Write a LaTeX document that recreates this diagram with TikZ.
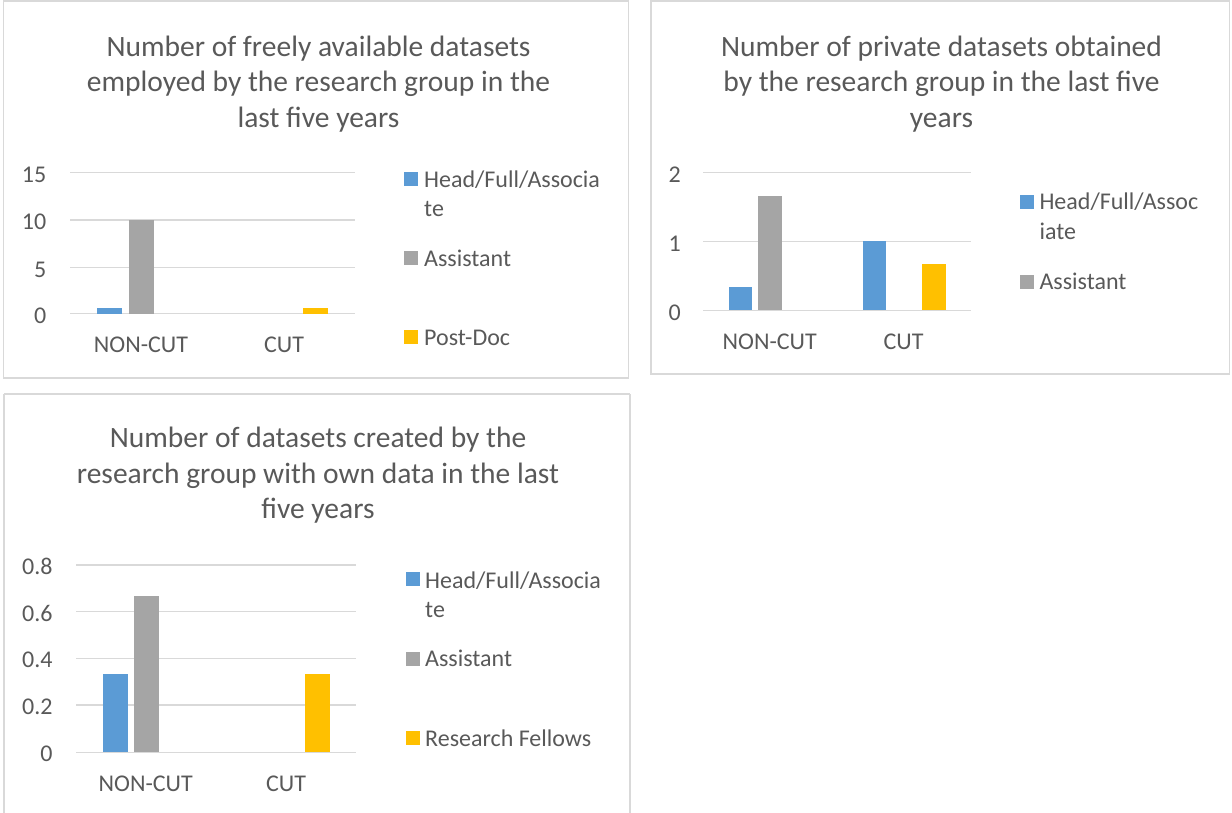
\documentclass[tikz,border=0pt]{standalone}
\usepackage{fontspec}
\setmainfont{Carlito}
\definecolor{txt}{HTML}{595959}
\definecolor{gridc}{HTML}{D9D9D9}
\definecolor{cblue}{HTML}{5B9BD5}
\definecolor{cgray}{HTML}{A5A5A5}
\definecolor{cyell}{HTML}{FFC000}
\tikzset{
  frame/.style={draw=gridc, line width=1.2pt},
  gline/.style={draw=gridc, line width=1.5pt},
  lab/.style={font=\fontsize{24}{29}\selectfont, text=txt, inner sep=0pt},
  tick/.style={lab, anchor=base east},
  cat/.style={lab, anchor=base},
  leg/.style={lab, anchor=base west},
  ttl/.style={font=\fontsize{29.5}{35.5}\selectfont, text=txt, align=center, inner sep=0pt},
}
\newcommand\drawbarx[5]{\fill[#1] (#2,#4) rectangle (#3,#5);}
\begin{document}
\begin{tikzpicture}[x=1pt,y=-1pt]
\useasboundingbox (0,0) rectangle (1232,813);
% ---------------- chart 1 ----------------
\draw[frame] (3.5,1) rectangle (628.5,378);
\node[ttl] (t1) at (318.5,84) {Number of freely available datasets\\employed by the research group in the\\last five years};
\foreach \v/\y in {15/172.7,10/220,5/267.3,0/313.7}{
  \draw[gline] (70,\y) -- (355,\y);
  \node[tick] (a1-\v) at (46.5,\y+10) {\v};
}
\drawbarx{cblue}{96.7}{122}{308}{313.7}
\drawbarx{cgray}{129}{154}{220}{313.7}
\drawbarx{cyell}{302.7}{328}{308}{313.7}
\node[cat] (c1a) at (141,352.7) {NON-CUT};
\node[cat] (c1b) at (284,352.7) {CUT};
\fill[cblue] (404,172.3) rectangle (418,186);
\node[leg] (l1a) at (424,187.3) {Head/Full/Associa};
\node[leg] (l1a2) at (424,216.7) {te};
\fill[cgray] (404,251.3) rectangle (418,265);
\node[leg] (l1b) at (424,266) {Assistant};
\fill[cyell] (404,330) rectangle (418,343.7);
\node[leg] (l1c) at (424,345.3) {Post-Doc};
% ---------------- chart 2 ----------------
\draw[frame] (651,1) rectangle (1229.5,374);
\node[ttl] (t2) at (941.5,84) {Number of private datasets obtained\\by the research group in the last five\\years};
\foreach \v/\y in {2/172.7,1/241.5,0/310.3}{
  \draw[gline] (703,\y) -- (970.5,\y);
  \node[tick] (a2-\v) at (681,\y+10) {\v};
}
\drawbarx{cblue}{729.3}{752.3}{287.3}{310.3}
\drawbarx{cgray}{758.3}{782}{195.7}{310.3}
\drawbarx{cblue}{863.3}{886}{241.5}{310.3}
\drawbarx{cyell}{922.3}{946}{264.3}{310.3}
\node[cat] (c2a) at (769.7,349) {NON-CUT};
\node[cat] (c2b) at (903.5,349) {CUT};
\fill[cblue] (1020,195) rectangle (1034,208.7);
\node[leg] (l2a) at (1039.3,210) {Head/Full/Assoc};
\node[leg] (l2a2) at (1039.3,239.3) {iate};
\fill[cgray] (1020,275) rectangle (1034,288.7);
\node[leg] (l2b) at (1039.3,290) {Assistant};
% ---------------- chart 3 ----------------
\draw[frame] (4,394) -- (630,394) (4,394) -- (4,815) (630,394) -- (630,815);
\node[ttl] (t3) at (318,475.5) {Number of datasets created by the\\research group with own data in the last\\five years};
\foreach \v/\y in {0.8/565,0.6/611.7,0.4/658.3,0.2/705,0/752.3}{
  \draw[gline] (76,\y) -- (356,\y);
  \node[tick] (a3-\v) at (52.7,\y+9.5) {\v};
}
\drawbarx{cblue}{103}{128}{674}{752.3}
\drawbarx{cgray}{134}{159}{596}{752.3}
\drawbarx{cyell}{305.3}{330}{674}{752.3}
\node[cat] (c3a) at (145.7,791) {NON-CUT};
\node[cat] (c3b) at (286,791) {CUT};
\fill[cblue] (406,572.3) rectangle (419.5,586);
\node[leg] (l3a) at (425,588.3) {Head/Full/Associa};
\node[leg] (l3a2) at (425,617.5) {te};
\fill[cgray] (406,652.3) rectangle (419.5,666);
\node[leg] (l3b) at (425,666.7) {Assistant};
\fill[cyell] (406,731) rectangle (419.5,744.5);
\node[leg] (l3c) at (425,746) {Research Fellows};
\end{tikzpicture}
\end{document}
